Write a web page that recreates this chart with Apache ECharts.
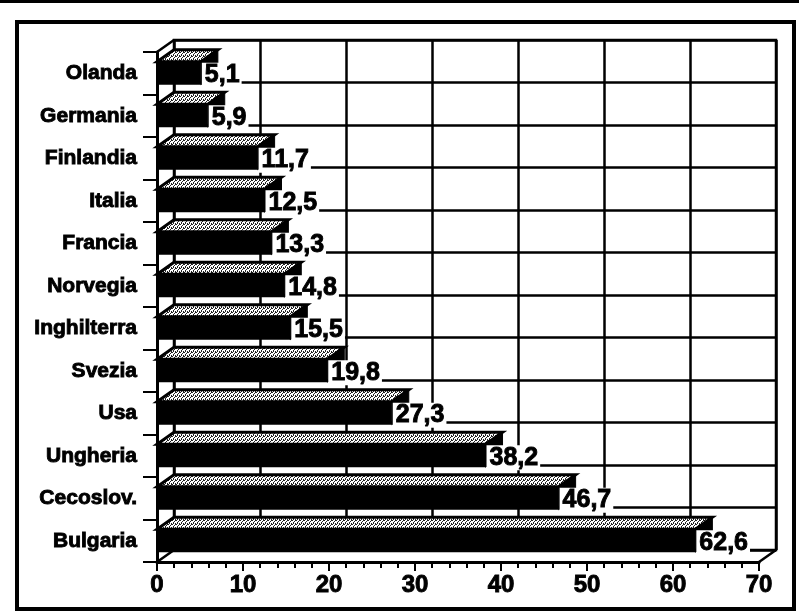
<!DOCTYPE html>
<html><head><meta charset="utf-8">
<script src="https://cdn.jsdelivr.net/npm/echarts@6/dist/echarts.min.js"></script>
<style>html,body{margin:0;padding:0;background:#fff}#c{width:799px;height:612px}</style>
</head><body><div id="c"></div>
<script>
const categories = ['Olanda','Germania','Finlandia','Italia','Francia','Norvegia','Inghilterra','Svezia','Usa','Ungheria','Cecoslov.','Bulgaria'];
const values = [5.1, 5.9, 11.7, 12.5, 13.3, 14.8, 15.5, 19.8, 27.3, 38.2, 46.7, 62.6];
const xTicks = [0, 10, 20, 30, 40, 50, 60, 70];

const DX = 17, DY = 12;
const FONT = '"Liberation Sans", Arial, sans-serif';
const fmt = v => String(v).replace('.', ',');

const hatch = document.createElement('canvas');
hatch.width = 4; hatch.height = 4;
const g = hatch.getContext('2d');
g.fillStyle = '#fff'; g.fillRect(0, 0, 4, 4);
g.fillStyle = '#222';
[[0,0],[2,1],[1,2],[3,3],[3,0],[1,3]].forEach(p => g.fillRect(p[0], p[1], 1, 1));

const xMin = xTicks[0], xMax = xTicks[xTicks.length - 1], xInt = xTicks[1] - xTicks[0];

const chart = echarts.init(document.getElementById('c'), null, {renderer: 'canvas'});
const option = {
  animation: false,
  backgroundColor: '#fff',
  grid: [
    {left: 157, right: 40, top: 52, bottom: 50},
    {left: 157 + DX, right: 40 - DX, top: 52 - DY, bottom: 50 + DY}
  ],
  xAxis: [
    {gridIndex: 0, type: 'value', min: xMin, max: xMax, interval: xInt,
     axisLine: {show: true, lineStyle: {color: '#000', width: 3}},
     axisTick: {show: true, length: 9, lineStyle: {color: '#000', width: 2}},
     minorTick: {show: true, splitNumber: 5, length: 6, lineStyle: {color: '#000', width: 2}},
     splitLine: {show: false},
     axisLabel: {color: '#000', fontSize: 24, fontWeight: 'bold', fontFamily: FONT, margin: 11,
                 textBorderColor: '#000', textBorderWidth: 0.9}},
    {gridIndex: 1, type: 'value', min: xMin, max: xMax, interval: xInt,
     axisLine: {show: false}, axisTick: {show: false}, axisLabel: {show: false},
     splitLine: {show: true, lineStyle: {color: '#000', width: 2.5}}}
  ],
  yAxis: [
    {gridIndex: 0, type: 'category', data: categories, inverse: true,
     axisLine: {show: true, lineStyle: {color: '#000', width: 3}},
     axisTick: {show: true, length: 14, lineStyle: {color: '#000', width: 2}},
     splitLine: {show: false},
     axisLabel: {color: '#000', fontSize: 21, fontWeight: 'bold', fontFamily: FONT, margin: 20,
                 textBorderColor: '#000', textBorderWidth: 0.9}},
    {gridIndex: 1, type: 'category', data: categories, inverse: true,
     axisLine: {show: false}, axisTick: {show: false}, axisLabel: {show: false},
     splitLine: {show: true, lineStyle: {color: '#000', width: 2.5}}}
  ],
  graphic: [
    {type: 'rect', z: 100, shape: {x: 17, y: 22, width: 777, height: 587}, style: {fill: null, stroke: '#000', lineWidth: 4}},
    {type: 'rect', z: 100, shape: {x: 0, y: 0, width: 799, height: 3}, style: {fill: '#000'}}
  ],
  series: [
    {type: 'custom', xAxisIndex: 0, yAxisIndex: 0, z: 1, silent: true,
     data: [[0, 0]],
     renderItem(params, api) {
       const cs = params.coordSys;
       const L = cs.x, T = cs.y, R = cs.x + cs.width, B = cs.y + cs.height;
       const st = {stroke: '#000', lineWidth: 2.5};
       return {type: 'group', children: [
         {type: 'rect', shape: {x: L + DX, y: T - DY, width: cs.width, height: cs.height}, style: {fill: null, stroke: '#000', lineWidth: 2.5}},
         {type: 'line', shape: {x1: L, y1: T, x2: L + DX, y2: T - DY}, style: st},
         {type: 'line', shape: {x1: L, y1: B, x2: L + DX, y2: B - DY}, style: st},
         {type: 'line', shape: {x1: R, y1: B, x2: R + DX, y2: B - DY}, style: st}
       ]};
     }},
    {type: 'custom', xAxisIndex: 0, yAxisIndex: 0, z: 5, silent: true,
     data: values.map((v, i) => [v, i]),
     encode: {x: 0, y: 1},
     renderItem(params, api) {
       const v = api.value(0), i = api.value(1);
       const p0 = api.coord([0, i]), p1 = api.coord([v, i]);
       const band = api.size([0, 1])[1];
       const h = band * 0.54;
       const yt = p0[1] - h / 2, yb = p0[1] + h / 2, x0 = p0[0], x1 = p1[0];
       return {type: 'group', children: [
         {type: 'polygon', shape: {points: [[x1, yt], [x1 + DX, yt - DY], [x1 + DX, yb - DY], [x1, yb]]}, style: {fill: '#000', stroke: '#000', lineWidth: 1}},
         {type: 'polygon', shape: {points: [[x0, yt], [x1, yt], [x1 + DX, yt - DY], [x0 + DX, yt - DY]]}, style: {fill: {image: hatch, repeat: 'repeat'}, stroke: '#000', lineWidth: 3}},
         {type: 'rect', shape: {x: x0, y: yt, width: x1 - x0, height: h}, style: {fill: '#000'}},
         {type: 'text', x: x1 + 1, y: p0[1] + 2, style: {text: fmt(v), font: 'bold 25px ' + FONT, fill: '#000', align: 'left', verticalAlign: 'middle', backgroundColor: '#fff', padding: [0, 2, 0, 3], stroke: '#000', lineWidth: 0.9}}
       ]};
     }}
  ]
};
chart.setOption(option);
</script></body></html>
